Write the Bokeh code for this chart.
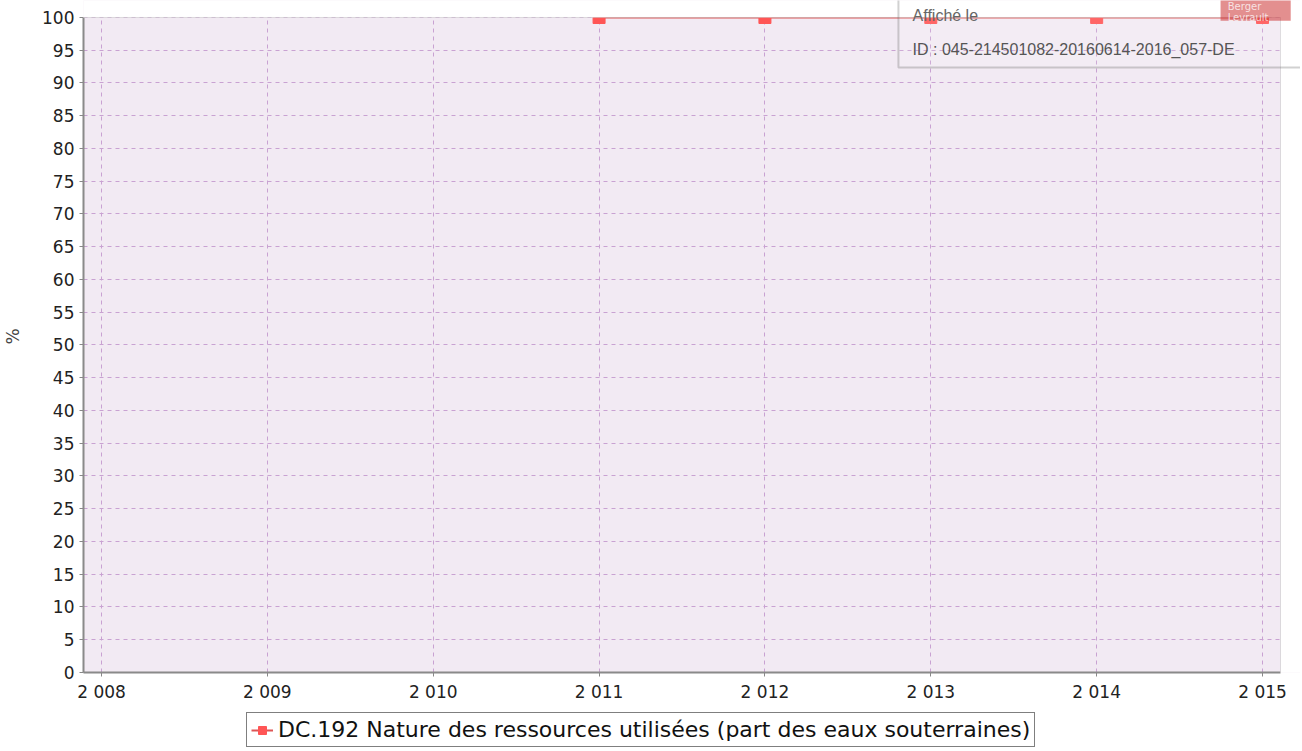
from bokeh.plotting import figure
from bokeh.layouts import column
from bokeh.models import FixedTicker, Legend, LegendItem, Label, BoxAnnotation, Range1d
from bokeh.embed import file_html
from bokeh.resources import INLINE

years = [2011, 2012, 2013, 2014, 2015]
values = [100, 100, 100, 100, 100]
x_ticks = [2008, 2009, 2010, 2011, 2012, 2013, 2014, 2015]
x_tick_labels = ["2 008", "2 009", "2 010", "2 011", "2 012", "2 013", "2 014", "2 015"]
y_ticks = list(range(0, 101, 5))
series_name = "DC.192 Nature des ressources utilisées (part des eaux souterraines)"
stamp_line1 = "Affiché le"
stamp_line2 = "ID : 045-214501082-20160614-2016_057-DE"

FONT = "DejaVu Sans"
LINE_COLOR = "#dd5555"
MARK_COLOR = "#ff5555"
X0, X1 = 2007.8915, 2015.1085   # plot area
XE = 2015.229                    # canvas right edge
YE = 102.595                     # canvas top edge

p = figure(frame_width=1217, frame_height=672, output_backend="svg", toolbar_location=None,
           x_range=Range1d(X0, XE), y_range=Range1d(0, YE),
           min_border_left=83, min_border_top=0, min_border_right=0, min_border_bottom=0)

p.background_fill_color = "#f2eaf3"
p.border_fill_color = "white"
p.outline_line_color = None

p.xaxis.ticker = FixedTicker(ticks=x_ticks)
p.xaxis.major_label_overrides = {t: l for t, l in zip(x_ticks, x_tick_labels)}
p.xaxis.bounds = (X0, X1)
p.yaxis.ticker = FixedTicker(ticks=y_ticks)
p.yaxis.bounds = (0, 100)

for ax in (p.xaxis, p.yaxis):
    ax.axis_line_color = "#888888"
    ax.axis_line_width = 2
    ax.major_tick_line_color = "#888888"
    ax.major_tick_out = 4
    ax.major_tick_in = 0
    ax.minor_tick_line_color = None
    ax.major_label_text_font = FONT
    ax.major_label_text_font_size = "17px"
    ax.major_label_text_color = "#222222"

p.yaxis.axis_label = "%"
p.yaxis.axis_label_text_font = FONT
p.yaxis.axis_label_text_font_size = "17px"
p.yaxis.axis_label_text_font_style = "normal"
p.yaxis.axis_label_standoff = 16
p.xaxis.major_label_standoff = 5

for g in (p.xgrid, p.ygrid):
    g.grid_line_color = "#c9a2d2"
    g.grid_line_dash = "4 4"
    g.grid_line_width = 1

p.line(years, values, line_color=LINE_COLOR, line_width=2)
p.scatter(years, values, marker="square", size=12, fill_color=MARK_COLOR, line_color=MARK_COLOR)

# white surround above and right of the plot area, plus the plot outline
p.add_layout(BoxAnnotation(bottom=100, top=YE + 1, left=X0 - 1, right=XE + 1,
                           fill_color="white", fill_alpha=1, line_color=None))
p.add_layout(BoxAnnotation(bottom=-1, top=YE + 1, left=X1, right=XE + 1,
                           fill_color="white", fill_alpha=1, line_color=None))
p.add_layout(BoxAnnotation(bottom=0, top=100, left=X0, right=X1,
                           fill_alpha=0, line_color="#999999", line_width=1))

# Stamp overlay
p.add_layout(BoxAnnotation(left=2012.805, right=XE + 1, bottom=92.37, top=YE + 1,
                           fill_color="white", fill_alpha=0.1,
                           line_color="#666666", line_width=2))
p.add_layout(BoxAnnotation(left=2014.747, right=2015.17, bottom=99.5, top=YE + 1,
                           fill_color="#cc3333", fill_alpha=0.55, line_color=None))
p.add_layout(Label(x=2014.79, y=102.5, text="Berger\nLevrault", text_font=FONT,
                   text_font_size="10px", text_color="white", text_alpha=0.75,
                   text_baseline="top", text_line_height=0.95))
p.add_layout(Label(x=2012.89, y=100.3, text=stamp_line1, text_font="Liberation Sans",
                   text_font_size="16px", text_color="#666666", text_baseline="middle"))
p.add_layout(Label(x=2012.89, y=95.1, text=stamp_line2, text_font="Liberation Sans",
                   text_font_size="16px", text_color="#555555", text_baseline="middle"))

# Legend strip below the chart (series drawn out of view, only used as legend proxies)
p2 = figure(width=1300, height=44, output_backend="svg", toolbar_location=None,
            x_range=Range1d(0, 1), y_range=Range1d(0, 1),
            min_border_left=0, min_border_right=0, min_border_top=0, min_border_bottom=0)
p2.axis.visible = False
p2.grid.visible = False
p2.outline_line_color = None
p2.background_fill_color = "white"
lg_line = p2.line(years, values, line_color=LINE_COLOR, line_width=2)
lg_mark = p2.scatter(years, values, marker="square", size=12, fill_color=MARK_COLOR, line_color=MARK_COLOR)

legend = Legend(items=[LegendItem(label=series_name, renderers=[lg_line, lg_mark])],
                location=(163, 1), orientation="horizontal")
legend.label_text_font = FONT
legend.label_text_font_size = "22px"
legend.label_text_color = "#111111"
legend.border_line_color = "black"
legend.border_line_width = 1.5
legend.background_fill_color = "white"
legend.background_fill_alpha = 1
legend.padding = 4
legend.margin = 0
legend.glyph_width = 22
legend.label_standoff = 5
p2.add_layout(legend)

layout = column(p, p2, spacing=0)
open("out.html", "w").write(file_html(layout, INLINE))
